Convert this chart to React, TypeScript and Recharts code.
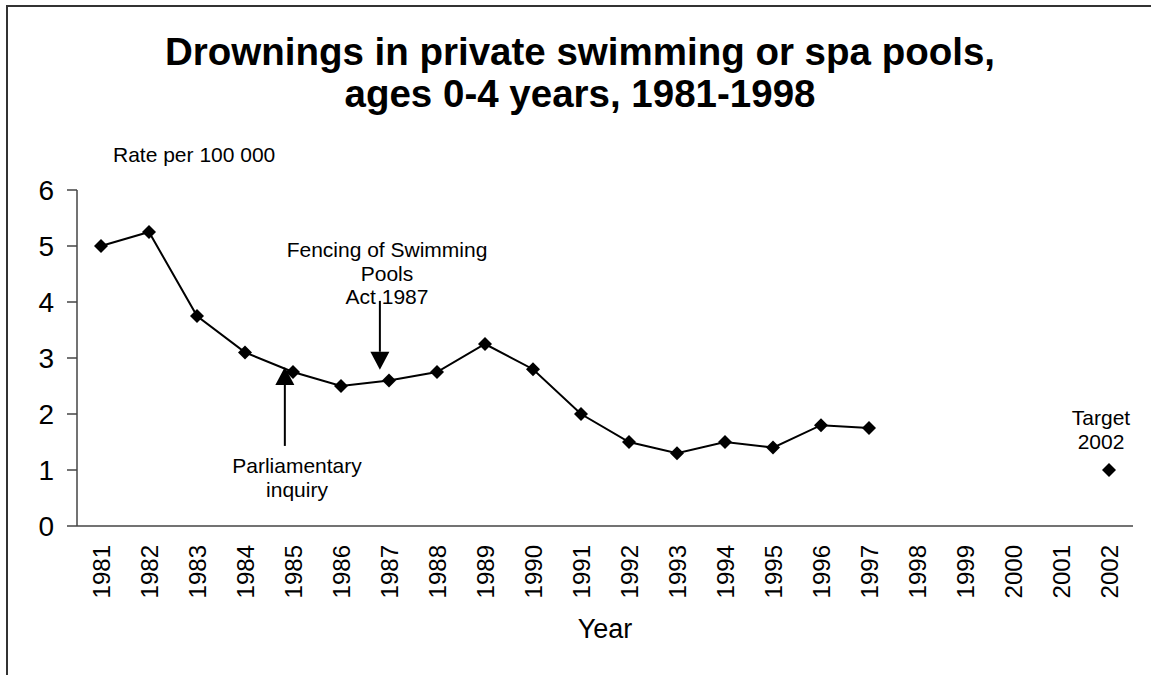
import { Line, LineChart, ReferenceLine, XAxis, YAxis } from "recharts";

const years = [
  "1981", "1982", "1983", "1984", "1985", "1986", "1987", "1988", "1989", "1990", "1991",
  "1992", "1993", "1994", "1995", "1996", "1997", "1998", "1999", "2000", "2001", "2002",
];
const rates: (number | null)[] = [
  5.0, 5.25, 3.75, 3.1, 2.75, 2.5, 2.6, 2.75, 3.25, 2.8, 2.0,
  1.5, 1.3, 1.5, 1.4, 1.8, 1.75, null, null, null, null, null,
];
const targets: (number | null)[] = [
  null, null, null, null, null, null, null, null, null, null, null,
  null, null, null, null, null, null, null, null, null, null, 1.0,
];
const yTicks = [0, 1, 2, 3, 4, 5, 6];

// annotation arrows in data units: [x position (category index), from value, to value]
const fencingArrow = { x: 5.81, from: 4.02, to: 2.79 };
const inquiryArrow = { x: 3.83, from: 1.43, to: 2.84 };

const data = years.map((year, i) => ({ idx: i, year, rate: rates[i], target: targets[i] }));
const centerTicks = years.map((_, i) => i);
const boundaryTicks = [...years.map((_, i) => i - 0.5), years.length - 0.5];

const FONT = "Arial, 'Liberation Sans', Helvetica, sans-serif";
const AXIS = "#444";

function Diamond(props: any) {
  const { cx, cy, value, index } = props;
  if (cx == null || cy == null || value == null) return <g key={`d-${index}`} />;
  const r = 7;
  return (
    <polygon
      key={`d-${index}`}
      points={`${cx},${cy - r} ${cx + r},${cy} ${cx},${cy + r} ${cx - r},${cy}`}
      fill="#000"
    />
  );
}

function Arrow(props: any) {
  const { x1, y1, x2, y2 } = props;
  const dir = y2 > y1 ? 1 : -1;
  const head = 18;
  const half = 9.5;
  return (
    <g>
      <line x1={x1} y1={y1} x2={x2} y2={y2 - dir * head} stroke="#000" strokeWidth={2} />
      <polygon points={`${x2},${y2} ${x2 - half},${y2 - dir * head} ${x2 + half},${y2 - dir * head}`} fill="#000" />
    </g>
  );
}

function YearTick(props: any) {
  const { x, y, payload } = props;
  const label = years[payload.value];
  return (
    <text
      x={x}
      y={y}
      transform={`rotate(-90, ${x}, ${y})`}
      textAnchor="end"
      dominantBaseline="central"
      fontSize={24}
      fontFamily={FONT}
      fill="#000"
    >
      {label}
    </text>
  );
}

const textStyle = { position: "absolute" as const, fontFamily: FONT, color: "#000", textAlign: "center" as const };

export default function App() {
  return (
    <div style={{ position: "absolute", left: 0, top: 0, width: 1151, height: 675, overflow: "hidden", background: "#fff" }}>
      <div style={{ position: "absolute", left: 6, top: 5, width: 1300, height: 900, border: "2px solid #333" }} />
      <div style={{ ...textStyle, left: 80, top: 31, width: 1000, fontSize: 38.5, lineHeight: "42px", fontWeight: "bold" }}>
        Drownings in private swimming or spa pools,
        <br />
        ages 0-4 years, 1981-1998
      </div>
      <div style={{ ...textStyle, left: 113, top: 143, fontSize: 21, lineHeight: "24px", textAlign: "left", whiteSpace: "nowrap" }}>
        Rate per 100 000
      </div>
      <div style={{ position: "absolute", left: 0, top: 0 }}>
        <LineChart width={1151} height={675} data={data} margin={{ top: 190, right: 18, left: 17, bottom: 68 }}>
          <XAxis
            xAxisId="bounds"
            dataKey="idx"
            type="number"
            domain={[-0.5, years.length - 0.5]}
            ticks={boundaryTicks}
            interval={0}
            tick={false}
            tickSize={8}
            height={1}
            axisLine={{ stroke: AXIS, strokeWidth: 1.5 }}
            tickLine={{ stroke: AXIS, strokeWidth: 1.5 }}
            allowDataOverflow
          />
          <XAxis
            xAxisId="labels"
            dataKey="idx"
            type="number"
            domain={[-0.5, years.length - 0.5]}
            ticks={centerTicks}
            interval={0}
            tick={<YearTick />}
            tickSize={0}
            tickMargin={18}
            tickLine={false}
            axisLine={false}
            height={80}
            allowDataOverflow
          />
          <YAxis
            domain={[0, 6]}
            ticks={yTicks}
            interval={0}
            width={60}
            tickSize={10}
            tickMargin={13}
            tick={{ fontSize: 28, fontFamily: FONT, fill: "#000" }}
            axisLine={{ stroke: AXIS, strokeWidth: 1.5 }}
            tickLine={{ stroke: AXIS, strokeWidth: 1.5 }}
          />
          <Line
            xAxisId="bounds"
            dataKey="rate"
            type="linear"
            stroke="#000"
            strokeWidth={2}
            dot={(p: any) => <Diamond {...p} />}
            activeDot={false}
            connectNulls={false}
            isAnimationActive={false}
          />
          <Line
            xAxisId="bounds"
            dataKey="target"
            type="linear"
            stroke="none"
            dot={(p: any) => <Diamond {...p} />}
            activeDot={false}
            isAnimationActive={false}
          />
          <ReferenceLine
            xAxisId="bounds"
            segment={[{ x: fencingArrow.x, y: fencingArrow.from }, { x: fencingArrow.x, y: fencingArrow.to }]}
            shape={(p: any) => <Arrow {...p} />}
          />
          <ReferenceLine
            xAxisId="bounds"
            segment={[{ x: inquiryArrow.x, y: inquiryArrow.from }, { x: inquiryArrow.x, y: inquiryArrow.to }]}
            shape={(p: any) => <Arrow {...p} />}
          />
        </LineChart>
      </div>
      <div style={{ ...textStyle, left: 237, top: 238, width: 300, fontSize: 21, lineHeight: "23.5px" }}>
        Fencing of Swimming
        <br />
        Pools
        <br />
        Act 1987
      </div>
      <div style={{ ...textStyle, left: 147, top: 454, width: 300, fontSize: 21, lineHeight: "24px" }}>
        Parliamentary
        <br />
        inquiry
      </div>
      <div style={{ ...textStyle, left: 1041, top: 406, width: 120, fontSize: 21, lineHeight: "24px" }}>
        Target
        <br />
        2002
      </div>
      <div style={{ ...textStyle, left: 505, top: 616, width: 200, fontSize: 27, lineHeight: "27px" }}>Year</div>
    </div>
  );
}
